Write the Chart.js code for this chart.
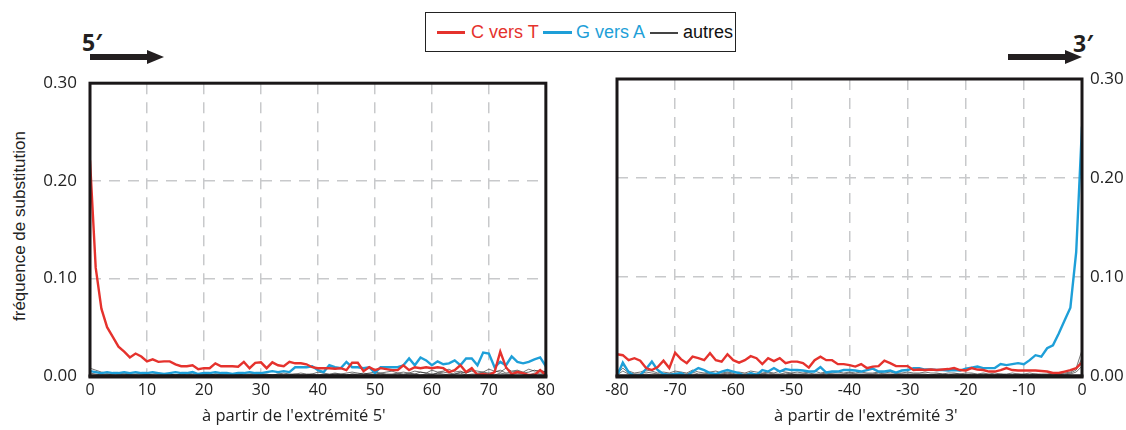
<!DOCTYPE html>
<html lang="fr">
<head>
<meta charset="utf-8">
<script src="https://cdn.jsdelivr.net/npm/chart.js@4.4.1/dist/chart.umd.min.js"></script>
<style>
  body { margin: 0; width: 1126px; height: 430px; background: #fff; position: relative; overflow: hidden; }
  .abs { position: absolute; }
  .panel { position: absolute; top: 60px; height: 370px; }
  .tag { position: absolute; font: bold 23px 'Open Sans', sans-serif; line-height: 1; color: #231f20; }
  .shaft { position: absolute; top: 54px; height: 6px; background: #231f20; }
  .head { position: absolute; top: 50px; width: 0; height: 0; border-top: 7px solid transparent; border-bottom: 7px solid transparent; border-left: 17px solid #231f20; }
  .xtitle { position: absolute; top: 405px; font: 16.5px 'Open Sans', sans-serif; color: #222; white-space: nowrap; line-height: 1.2; }
  .lg { position: absolute; font: 18px 'Liberation Sans', Arial, sans-serif; line-height: 1; top: 23px; white-space: nowrap; }
  .lgline { position: absolute; top: 31px; height: 3px; }
</style>
</head>
<body>

<!-- legend -->
<div class="abs" style="left:425px;top:12px;width:309px;height:38px;border:1.5px solid #222;"></div>
<div class="lgline" style="left:437px;width:28px;background:#e5322d;"></div>
<div class="lg" style="left:471px;color:#e5322d;">C vers T</div>
<div class="lgline" style="left:543px;width:29px;background:#1e9fd8;"></div>
<div class="lg" style="left:576px;color:#1e9fd8;">G vers A</div>
<div class="lgline" style="left:650px;width:28px;height:1.5px;top:32px;background:#444;"></div>
<div class="lg" style="left:683px;color:#111;">autres</div>

<!-- end arrows -->
<div class="tag" style="left:82px;top:31px;">5′</div>
<div class="shaft" style="left:90px;width:58px;"></div>
<div class="head" style="left:147px;"></div>
<div class="tag" style="left:1073px;top:32px;">3′</div>
<div class="shaft" style="left:1008px;width:58px;"></div>
<div class="head" style="left:1065px;"></div>

<!-- y axis title -->
<div class="abs" style="left:20px;top:226px;width:0;height:0;">
  <div style="position:absolute;transform:translate(-50%,-50%) rotate(-90deg);font:17px 'Liberation Sans', Arial, sans-serif;color:#222;white-space:nowrap;">fréquence de substitution</div>
</div>

<div class="panel" style="left:0;width:560px;"><canvas id="c5"></canvas></div>
<div class="panel" style="left:600px;width:526px;"><canvas id="c3"></canvas></div>

<div class="xtitle" style="left:202px;">à partir de l'extrémité 5'</div>
<div class="xtitle" style="left:774px;">à partir de l'extrémité 3'</div>

<script>
// positions from the 5' end (0..80) and from the 3' end (-80..0)
const pos5 = Array.from({ length: 81 }, (_, i) => i);
const pos3 = Array.from({ length: 81 }, (_, i) => i - 80);

const yTicks = [0, 0.1, 0.2, 0.3];

// 5' end, C -> T
const ct5 = [
  0.221, 0.111, 0.069, 0.050, 0.040, 0.030, 0.025, 0.019, 0.023, 0.020,
  0.015, 0.017, 0.0145, 0.015, 0.015, 0.012, 0.010, 0.010, 0.011, 0.007,
  0.008, 0.008, 0.013, 0.010, 0.010, 0.010, 0.0095, 0.0145, 0.008, 0.0135,
  0.014, 0.008, 0.014, 0.011, 0.010, 0.0145, 0.013, 0.013, 0.012, 0.009,
  0.008, 0.008, 0.008, 0.0075, 0.008, 0.006, 0.0135, 0.0135, 0.005, 0.009,
  0.006, 0.008, 0.007, 0.006, 0.006, 0.011, 0.006, 0.009, 0.008, 0.009,
  0.008, 0.009, 0.008, 0.004, 0.006, 0.011, 0.004, 0.008, 0.001, 0.002,
  0.001, 0.004, 0.025, 0.009, 0.002, 0.004, 0.003, 0.001, 0.001, 0.006,
  0.001
];
// 5' end, G -> A
const ga5 = [
  0.005, 0.004, 0.003, 0.004, 0.003, 0.003, 0.004, 0.003, 0.004, 0.003,
  0.003, 0.004, 0.003, 0.002, 0.003, 0.004, 0.003, 0.003, 0.004, 0.002,
  0.003, 0.003, 0.004, 0.003, 0.003, 0.002, 0.003, 0.003, 0.004, 0.003,
  0.003, 0.004, 0.005, 0.004, 0.005, 0.004, 0.009, 0.009, 0.009, 0.010,
  0.006, 0.004, 0.011, 0.009, 0.008, 0.0145, 0.009, 0.009, 0.008, 0.009,
  0.003, 0.009, 0.009, 0.009, 0.009, 0.011, 0.018, 0.011, 0.019, 0.016,
  0.011, 0.015, 0.012, 0.013, 0.016, 0.011, 0.018, 0.018, 0.011, 0.024,
  0.023, 0.009, 0.0145, 0.011, 0.020, 0.0145, 0.013, 0.0145, 0.017, 0.019,
  0.010
];
// 5' end, other substitutions
const oth5a = [
  0.008, 0.006, 0.004, 0.003, 0.003, 0.002, 0.003, 0.002, 0.002, 0.003,
  0.002, 0.002, 0.003, 0.002, 0.002, 0.001, 0.002, 0.002, 0.003, 0.002,
  0.002, 0.001, 0.002, 0.002, 0.003, 0.002, 0.001, 0.002, 0.002, 0.003,
  0.002, 0.002, 0.001, 0.002, 0.003, 0.002, 0.002, 0.003, 0.002, 0.002,
  0.004, 0.003, 0.002, 0.003, 0.002, 0.003, 0.004, 0.003, 0.002, 0.003,
  0.004, 0.003, 0.004, 0.005, 0.003, 0.004, 0.003, 0.005, 0.004, 0.003,
  0.006, 0.004, 0.005, 0.007, 0.004, 0.005, 0.003, 0.006, 0.005, 0.004,
  0.007, 0.005, 0.004, 0.008, 0.005, 0.006, 0.004, 0.007, 0.005, 0.006,
  0.004
];
const oth5b = [
  0.005, 0.004, 0.002, 0.002, 0.001, 0.001, 0.002, 0.001, 0.001, 0.001,
  0.002, 0.001, 0.001, 0.001, 0.002, 0.001, 0.001, 0.002, 0.001, 0.001,
  0.001, 0.001, 0.002, 0.001, 0.001, 0.001, 0.002, 0.001, 0.001, 0.001,
  0.002, 0.001, 0.001, 0.002, 0.001, 0.001, 0.002, 0.001, 0.001, 0.002,
  0.001, 0.002, 0.001, 0.002, 0.002, 0.001, 0.002, 0.002, 0.003, 0.002,
  0.002, 0.003, 0.002, 0.002, 0.003, 0.002, 0.003, 0.002, 0.004, 0.003,
  0.002, 0.003, 0.004, 0.003, 0.002, 0.004, 0.003, 0.005, 0.003, 0.004,
  0.003, 0.004, 0.006, 0.003, 0.004, 0.005, 0.003, 0.004, 0.006, 0.004,
  0.005
];
const oth5c = [
  0.003, 0.002, 0.001, 0.001, 0.001, 0.000, 0.001, 0.001, 0.000, 0.001,
  0.001, 0.000, 0.001, 0.001, 0.000, 0.001, 0.001, 0.000, 0.001, 0.000,
  0.001, 0.001, 0.000, 0.001, 0.001, 0.000, 0.001, 0.000, 0.001, 0.001,
  0.000, 0.001, 0.001, 0.000, 0.001, 0.001, 0.000, 0.001, 0.001, 0.001,
  0.000, 0.001, 0.001, 0.002, 0.001, 0.001, 0.002, 0.001, 0.001, 0.002,
  0.001, 0.002, 0.001, 0.001, 0.002, 0.001, 0.002, 0.002, 0.001, 0.002,
  0.001, 0.003, 0.002, 0.001, 0.002, 0.003, 0.001, 0.002, 0.002, 0.003,
  0.002, 0.001, 0.003, 0.002, 0.002, 0.003, 0.002, 0.001, 0.003, 0.002,
  0.003
];

// 3' end, C -> T
const ct3 = [
  0.022, 0.021, 0.016, 0.018, 0.0155, 0.008, 0.006, 0.009, 0.0155, 0.008,
  0.0235, 0.017, 0.013, 0.0195, 0.018, 0.016, 0.023, 0.016, 0.0145, 0.022,
  0.016, 0.0135, 0.016, 0.020, 0.018, 0.012, 0.018, 0.015, 0.018, 0.013,
  0.0145, 0.0145, 0.013, 0.0085, 0.016, 0.0195, 0.016, 0.016, 0.012, 0.012,
  0.011, 0.0095, 0.012, 0.008, 0.0095, 0.010, 0.0155, 0.013, 0.010, 0.010,
  0.010, 0.006, 0.0065, 0.006, 0.0065, 0.006, 0.0065, 0.007, 0.008, 0.006,
  0.0055, 0.008, 0.0065, 0.006, 0.0045, 0.0045, 0.006, 0.008, 0.006, 0.0055,
  0.0055, 0.0055, 0.0055, 0.005, 0.0045, 0.003, 0.003, 0.0045, 0.006, 0.008,
  0.0135
];
// 3' end, G -> A
const ga3 = [
  0.000, 0.0135, 0.004, 0.000, 0.001, 0.007, 0.0145, 0.006, 0.002, 0.001,
  0.002, 0.003, 0.000, 0.0045, 0.008, 0.006, 0.003, 0.002, 0.0045, 0.006,
  0.0045, 0.003, 0.000, 0.003, 0.001, 0.006, 0.0045, 0.008, 0.0045, 0.007,
  0.006, 0.006, 0.0055, 0.0045, 0.0045, 0.009, 0.0035, 0.0045, 0.0045, 0.006,
  0.006, 0.0055, 0.0045, 0.006, 0.0075, 0.0045, 0.0045, 0.0055, 0.0035, 0.0055,
  0.006, 0.008, 0.008, 0.0065, 0.0065, 0.006, 0.006, 0.0055, 0.006, 0.0055,
  0.0075, 0.0085, 0.0095, 0.008, 0.008, 0.008, 0.012, 0.011, 0.012, 0.013,
  0.012, 0.016, 0.021, 0.0195, 0.028, 0.031, 0.043, 0.056, 0.069, 0.125,
  0.252
];
// 3' end, other substitutions
const oth3a = [
  0.004, 0.011, 0.005, 0.003, 0.004, 0.006, 0.005, 0.003, 0.004, 0.003,
  0.005, 0.004, 0.003, 0.006, 0.004, 0.003, 0.004, 0.005, 0.003, 0.004,
  0.003, 0.004, 0.003, 0.005, 0.004, 0.003, 0.004, 0.003, 0.005, 0.004,
  0.003, 0.004, 0.003, 0.004, 0.005, 0.003, 0.004, 0.003, 0.004, 0.003,
  0.004, 0.003, 0.004, 0.003, 0.003, 0.004, 0.003, 0.004, 0.003, 0.003,
  0.004, 0.003, 0.003, 0.004, 0.003, 0.003, 0.002, 0.003, 0.003, 0.002,
  0.003, 0.003, 0.002, 0.003, 0.002, 0.003, 0.002, 0.002, 0.003, 0.002,
  0.002, 0.003, 0.002, 0.002, 0.002, 0.003, 0.002, 0.003, 0.004, 0.008,
  0.026
];
const oth3b = [
  0.002, 0.008, 0.003, 0.002, 0.002, 0.004, 0.003, 0.002, 0.002, 0.002,
  0.003, 0.002, 0.002, 0.004, 0.002, 0.002, 0.003, 0.002, 0.002, 0.003,
  0.002, 0.002, 0.002, 0.003, 0.002, 0.002, 0.003, 0.002, 0.002, 0.003,
  0.002, 0.002, 0.002, 0.003, 0.002, 0.002, 0.003, 0.002, 0.002, 0.002,
  0.003, 0.002, 0.002, 0.002, 0.002, 0.003, 0.002, 0.002, 0.002, 0.002,
  0.002, 0.002, 0.002, 0.002, 0.001, 0.002, 0.002, 0.001, 0.002, 0.002,
  0.001, 0.002, 0.001, 0.002, 0.001, 0.001, 0.002, 0.001, 0.001, 0.002,
  0.001, 0.001, 0.002, 0.001, 0.001, 0.002, 0.001, 0.002, 0.003, 0.006,
  0.018
];
const oth3c = [
  0.001, 0.005, 0.002, 0.001, 0.001, 0.002, 0.001, 0.001, 0.001, 0.001,
  0.002, 0.001, 0.001, 0.002, 0.001, 0.001, 0.001, 0.001, 0.001, 0.002,
  0.001, 0.001, 0.001, 0.001, 0.001, 0.002, 0.001, 0.001, 0.001, 0.001,
  0.002, 0.001, 0.001, 0.001, 0.001, 0.001, 0.002, 0.001, 0.001, 0.001,
  0.001, 0.001, 0.001, 0.001, 0.001, 0.001, 0.001, 0.001, 0.002, 0.001,
  0.001, 0.001, 0.001, 0.001, 0.001, 0.001, 0.001, 0.001, 0.001, 0.001,
  0.001, 0.001, 0.001, 0.001, 0.001, 0.001, 0.001, 0.001, 0.001, 0.001,
  0.001, 0.001, 0.001, 0.001, 0.001, 0.001, 0.001, 0.001, 0.002, 0.004,
  0.010
];

const RED = '#e5322d';
const BLUE = '#1e9fd8';
const GREY = 'rgba(35, 35, 35, 0.8)';

// heavy black frame round the plot area, a bit heavier along the bottom
const framePlugin = {
  id: 'frame',
  afterDatasetsDraw(chart) {
    const a = chart.chartArea;
    const ctx = chart.ctx;
    ctx.save();
    ctx.strokeStyle = '#1a1718';
    ctx.lineWidth = 3;
    ctx.strokeRect(a.left, a.top, a.right - a.left, a.bottom - a.top);
    ctx.lineWidth = 4;
    ctx.beginPath();
    ctx.moveTo(a.left - 1.5, a.bottom + 0.5);
    ctx.lineTo(a.right + 1.5, a.bottom + 0.5);
    ctx.stroke();
    ctx.restore();
  }
};

function pts(xs, ys) {
  return xs.map((x, i) => ({ x, y: ys[i] }));
}

function lineSet(xs, ys, color, width, order) {
  return {
    data: pts(xs, ys),
    borderColor: color,
    borderWidth: width,
    pointRadius: 0,
    tension: 0,
    order: order
  };
}

function makePanel(id, xs, ct, ga, others, xMin, xMax, side) {
  const datasets = [
    lineSet(xs, ct, RED, 2.4, 0),
    lineSet(xs, ga, BLUE, 2.4, 1)
  ];
  others.forEach(o => datasets.push(lineSet(xs, o, GREY, 0.8, 2)));

  const isLeft = side === 'left';
  return new Chart(document.getElementById(id), {
    type: 'line',
    data: { datasets },
    options: {
      responsive: true,
      maintainAspectRatio: false,
      animation: false,
      layout: {
        padding: isLeft ? { top: 19, right: 12, left: 0, bottom: 0 }
                        : { top: 19, right: 0, left: 17, bottom: 0 }
      },
      plugins: { legend: { display: false }, tooltip: { enabled: false } },
      scales: {
        x: {
          type: 'linear',
          min: xMin,
          max: xMax,
          afterFit: s => { s.height = 54; },
          ticks: {
            stepSize: 10,
            padding: 5,
            color: '#222',
            font: { family: "'Open Sans', sans-serif", size: 16 }
          },
          grid: {
            drawTicks: false,
            lineWidth: 1.5,
            color: c => (c.tick.value === xMin || c.tick.value === xMax) ? 'rgba(0,0,0,0)' : '#c8c9cb'
          },
          border: { display: false, dash: [11, 8] }
        },
        y: {
          position: side,
          min: 0,
          max: 0.3,
          afterFit: s => { s.width = isLeft ? 90 : 44; },
          afterBuildTicks: s => { s.ticks = yTicks.map(v => ({ value: v })); },
          ticks: {
            padding: isLeft ? 13 : 8,
            color: '#222',
            font: { family: "'Open Sans', sans-serif", size: 17 },
            callback: v => v.toFixed(2)
          },
          grid: {
            drawTicks: false,
            lineWidth: 1.5,
            color: c => (c.tick.value === 0 || c.tick.value === 0.3) ? 'rgba(0,0,0,0)' : '#c8c9cb'
          },
          border: { display: false, dash: [11, 8] }
        }
      }
    },
    plugins: [framePlugin]
  });
}

makePanel('c5', pos5, ct5, ga5, [oth5a, oth5b, oth5c], 0, 80, 'left');
makePanel('c3', pos3, ct3, ga3, [oth3a, oth3b, oth3c], -80, 0, 'right');
</script>
</body>
</html>
